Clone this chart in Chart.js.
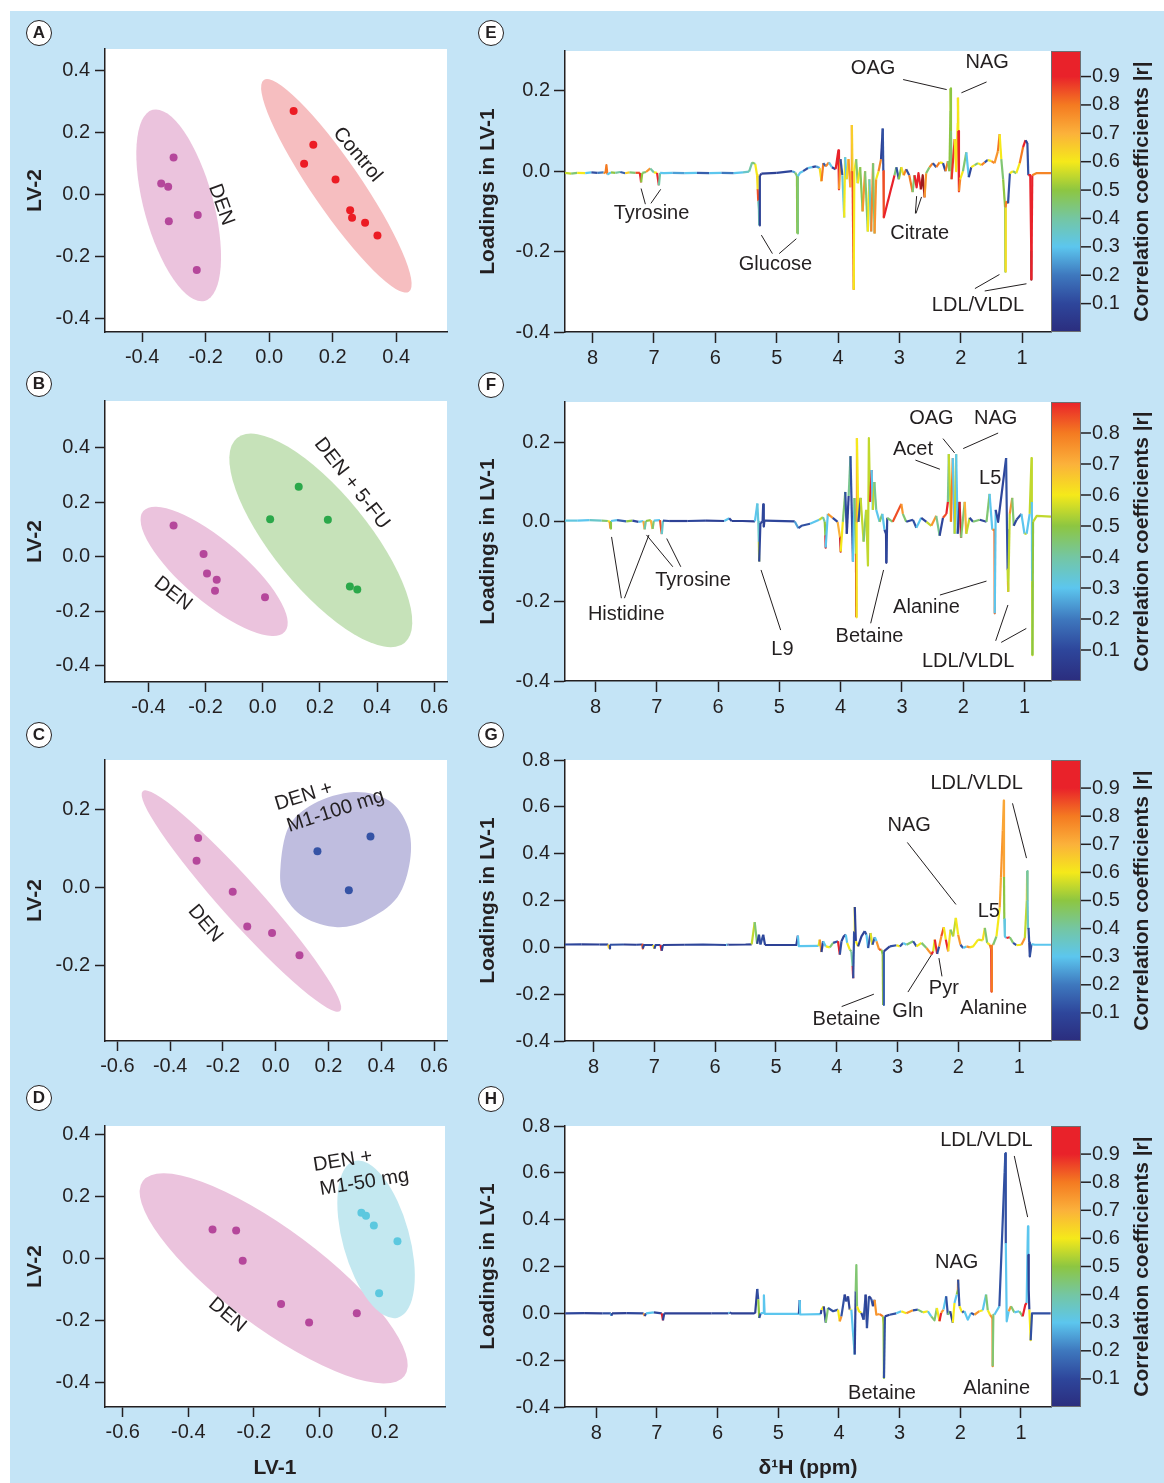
<!DOCTYPE html>
<html>
<head>
<meta charset="utf-8">
<title>PLS-DA scores and loadings</title>
<script src="https://cdn.jsdelivr.net/npm/chart.js@4.4.1/dist/chart.umd.min.js"></script>
<style>
body{margin:0;width:1164px;height:1483px;position:relative;overflow:hidden;background:#fff}
#bg{position:absolute;left:10px;top:11px;width:1154px;height:1472px;background:#c4e4f6}
canvas{position:absolute}
.tag{position:absolute;box-sizing:border-box;width:26px;height:26px;border:1.6px solid #231f20;border-radius:50%;background:#fff;color:#231f20;font:bold 17px "Liberation Sans",Arial,sans-serif;text-align:center;line-height:23px}
</style>
</head>
<body>
<div id="bg"></div>
<script>
// ---- scores (LV-1, LV-2) ----
const denAx=[-0.301,-0.34,-0.318,-0.316,-0.225,-0.228]
const denAy=[0.119,0.035,0.025,-0.086,-0.066,-0.243]
const ctlAx=[0.077,0.139,0.11,0.209,0.255,0.261,0.302,0.341]
const ctlAy=[0.268,0.16,0.099,0.048,-0.051,-0.075,-0.091,-0.132]

const denBx=[-0.312,-0.207,-0.195,-0.161,-0.167,0.008]
const denBy=[0.115,0.011,-0.061,-0.084,-0.124,-0.148]
const fuBx=[0.126,0.026,0.228,0.305,0.331]
const fuBy=[0.257,0.138,0.136,-0.109,-0.12]

const denCx=[-0.294,-0.3,-0.163,-0.108,-0.014,0.09]
const denCy=[0.126,0.0675,-0.012,-0.101,-0.118,-0.175]
const m100x=[0.158,0.359,0.277]
const m100y=[0.092,0.13,-0.0085]

const denDx=[-0.326,-0.254,-0.234,-0.117,-0.0315,0.114]
const denDy=[0.094,0.091,-0.0065,-0.147,-0.207,-0.177]
const m50x=[0.128,0.142,0.166,0.238,0.182]
const m50y=[0.148,0.139,0.107,0.056,-0.112]

// group regions: centre x, centre y, major-axis tip x, tip y, minor/major ratio
const ellDenA=[-0.285,-0.035,-0.367,0.272,0.35]
const ellCtlA=[0.2116,0.0278,-0.0168,0.368,0.19]
const ellDenB=[-0.17,-0.053,-0.418,0.168,0.33]
const ellFuB=[0.2033,0.0606,-0.0897,0.4367,0.36]
const ellDenC=[-0.13,-0.036,-0.504,0.246,0.135]
const blobM100x=[0.018,0.049,0.144,0.296,0.429,0.501,0.509,0.461,0.347,0.233,0.106,0.03]
const blobM100y=[0.051,0.154,0.214,0.244,0.222,0.154,0.068,-0.026,-0.084,-0.103,-0.077,-0.017]
const ellDenD=[-0.1397,-0.0642,-0.5386,0.2513,0.3]
const ellM50D=[0.1728,0.0626,0.1067,0.3161,0.41]

// ---- loadings: [ppm, loading in LV-1, |r|] ----
const specE=[
 [8.45,-0.004,0.5],[8.35,-0.006,0.55],[8.25,-0.004,0.45],[8.12,-0.005,0.6],[8.02,-0.003,0.3],[7.92,-0.004,0.12],[7.82,-0.003,0.2],
 [7.79,-0.005,0.75],[7.775,0.015,0.8],[7.76,-0.008,0.8],[7.7,-0.003,0.3],[7.63,-0.004,0.5],[7.55,-0.002,0.4],[7.47,-0.005,0.15],[7.4,-0.003,0.65],[7.3,-0.004,0.45],
 [7.23,-0.004,0.85],[7.21,-0.028,0.95],[7.19,-0.004,0.5],[7.13,-0.002,0.45],[7.06,0.007,0.75],[7.0,-0.003,0.4],[6.95,-0.004,0.6],[6.92,-0.035,0.95],[6.9,-0.004,0.4],
 [6.84,-0.005,0.3],[6.7,-0.004,0.3],[6.5,-0.005,0.25],[6.3,-0.004,0.3],[6.1,-0.005,0.15],[5.9,-0.004,0.3],[5.7,-0.005,0.2],[5.55,-0.003,0.3],[5.45,-0.001,0.35],
 [5.4,0.022,0.4],[5.35,0.018,0.45],[5.32,-0.01,0.6],[5.31,-0.045,0.62],[5.3,-0.075,0.85],[5.29,-0.095,0.38],[5.285,-0.135,0.38],[5.275,-0.012,0.08],[5.25,-0.006,0.05],
 [5.0,-0.004,0.08],[4.75,0.0,0.1],[4.7,-0.003,0.25],[4.67,-0.012,0.45],[4.665,-0.155,0.5],[4.655,-0.012,0.45],[4.62,-0.004,0.3],
 [4.57,0.0,0.3],[4.49,0.008,0.12],[4.42,0.01,0.3],[4.36,0.012,0.1],[4.3,0.008,0.25],[4.27,-0.025,0.62],[4.24,0.02,0.8],[4.2,0.012,0.15],[4.15,0.022,0.78],[4.1,0.01,0.3],[4.04,0.005,0.1],
 [3.995,0.052,0.9],[3.985,-0.045,0.9],[3.96,0.03,0.75],[3.93,-0.01,0.12],[3.9,-0.115,0.32],[3.885,0.035,0.6],[3.86,-0.02,0.3],[3.83,0.03,0.62],[3.8,-0.04,0.75],
 [3.785,0.0,0.7],[3.775,0.115,0.8],[3.765,0.0,0.65],[3.745,-0.295,0.85],[3.735,0.0,0.6],
 [3.705,0.03,0.6],[3.68,-0.03,0.45],[3.64,0.01,0.6],[3.6,-0.1,0.48],[3.56,0.0,0.75],[3.515,-0.15,0.45],[3.49,-0.02,0.6],[3.46,-0.15,0.35],[3.43,0.02,0.78],[3.405,-0.155,0.45],[3.38,-0.02,0.75],[3.34,0.0,0.6],[3.3,0.03,0.78],
 [3.272,0.106,0.08],[3.262,0.0,0.12],[3.255,-0.115,0.85],[3.08,-0.01,0.9],
 [3.05,0.01,0.45],[3.01,-0.02,0.12],[2.97,0.01,0.5],[2.93,-0.01,0.62],[2.89,0.005,0.78],[2.84,-0.01,0.12],[2.785,-0.052,0.8],[2.755,-0.01,0.45],[2.72,-0.04,0.92],[2.69,-0.005,0.9],[2.65,-0.045,0.92],[2.62,-0.01,1.0],[2.59,-0.065,1.0],[2.565,-0.005,0.75],
 [2.51,0.01,0.45],[2.455,0.02,0.78],[2.4,0.01,0.12],[2.345,0.022,0.8],[2.29,0.02,0.6],[2.25,0.0,0.1],[2.21,0.025,0.8],[2.185,0.0,0.45],
 [2.168,0.15,0.5],[2.166,0.206,0.55],[2.16,0.1,0.5],[2.15,-0.02,0.45],[2.1,0.08,0.88],[2.075,0.0,0.6],[2.05,0.12,0.6],[2.046,0.183,0.75],[2.04,0.1,0.6],[2.03,-0.05,0.92],[2.01,-0.02,0.78],[1.965,0.0,0.6],
 [1.91,0.047,0.45],[1.87,-0.015,0.3],[1.83,0.01,0.1],[1.775,0.015,0.6],[1.72,0.02,0.45],[1.665,0.015,0.6],[1.61,0.022,0.78],[1.56,0.028,0.12],[1.5,0.025,0.6],[1.45,0.02,0.78],[1.395,0.05,0.75],[1.367,0.092,0.8],[1.34,0.03,0.6],[1.31,-0.02,0.45],
 [1.278,-0.09,0.5],[1.274,-0.25,0.45],[1.268,-0.09,0.62],[1.26,-0.075,0.78],[1.23,-0.08,0.8],[1.2,-0.005,0.12],[1.15,0.0,0.6],[1.095,-0.005,0.45],[1.04,0.02,0.6],[0.985,0.06,0.8],[0.945,0.077,0.9],[0.915,0.07,0.08],[0.9,-0.01,0.12],
 [0.868,-0.01,0.9],[0.852,-0.2,0.92],[0.85,-0.27,1.0],[0.835,-0.01,0.9],[0.77,-0.005,0.78],[0.53,-0.005,0.78]
]
const specF=[
 [8.5,0.003,0.3],[8.3,0.003,0.32],[8.1,0.004,0.3],[7.9,0.003,0.35],[7.8,0.002,0.45],[7.77,0.0,0.6],[7.76,-0.017,0.75],[7.75,0.002,0.5],[7.65,0.004,0.3],[7.5,0.001,0.15],[7.4,0.003,0.5],[7.3,0.0,0.1],
 [7.22,0.002,0.3],[7.2,-0.019,0.72],[7.18,0.002,0.4],[7.1,0.004,0.5],[7.07,-0.018,0.7],[7.05,0.003,0.45],[6.95,0.004,0.3],[6.92,-0.031,0.85],[6.9,0.003,0.35],[6.8,0.002,0.12],
 [6.5,0.002,0.08],[6.2,0.003,0.1],[5.9,0.002,0.08],[5.82,0.009,0.3],[5.78,0.002,0.1],[5.6,0.002,0.08],[5.4,0.001,0.08],
 [5.36,0.046,0.3],[5.345,0.0,0.32],[5.336,-0.05,0.35],[5.33,-0.1,0.55],[5.31,-0.003,0.1],[5.275,0.0,0.08],[5.265,0.044,0.1],[5.255,-0.012,0.1],[5.245,0.003,0.08],
 [4.75,0.001,0.1],[4.69,-0.016,0.25],[4.64,-0.01,0.12],[4.5,-0.005,0.12],[4.35,0.005,0.3],[4.29,0.012,0.55],[4.26,0.0,0.4],[4.25,-0.035,0.5],[4.245,-0.065,0.97],[4.21,0.02,0.3],[4.13,0.01,0.75],[4.05,0.0,0.1],
 [4.01,-0.04,0.7],[4.0,-0.075,0.97],[3.965,0.0,0.6],[3.925,0.075,0.45],[3.9,-0.03,0.12],[3.87,0.065,0.08],[3.84,0.165,0.42],[3.8,-0.1,0.12],[3.775,0.06,0.3],[3.757,-0.02,0.45],[3.75,-0.08,0.45],[3.746,-0.24,0.97],
 [3.74,0.0,0.6],[3.735,0.21,0.72],[3.71,0.0,0.6],[3.675,0.06,0.12],[3.626,-0.05,0.55],[3.585,0.03,0.45],[3.555,-0.11,0.55],[3.54,0.21,0.55],[3.52,0.05,0.55],[3.495,0.13,0.95],[3.475,0.03,0.3],[3.45,0.1,0.55],[3.42,0.03,0.42],
 [3.365,0.0,0.3],[3.32,0.02,0.45],[3.285,-0.02,0.3],[3.26,-0.03,0.1],[3.255,-0.103,0.05],[3.24,0.01,0.1],[3.15,0.0,0.45],[3.01,0.045,0.85],[2.985,0.02,0.75],[2.93,0.0,0.45],[2.82,0.005,0.1],[2.765,-0.015,0.12],[2.685,0.01,0.3],
 [2.6,0.0,0.1],[2.52,-0.01,0.55],[2.44,0.015,0.75],[2.385,-0.035,0.42],[2.33,0.01,0.1],[2.275,0.02,0.85],[2.25,0.05,0.9],[2.235,0.17,0.42],[2.2,0.0,0.55],[2.17,0.16,0.8],[2.14,-0.03,0.3],[2.115,0.17,0.55],[2.09,-0.03,0.3],
 [2.06,0.05,0.08],[2.035,-0.04,0.97],[1.975,0.05,0.45],[1.95,-0.03,0.7],[1.895,0.01,0.55],[1.84,0.0,0.1],[1.73,0.005,0.45],[1.62,0.0,0.1],[1.57,0.07,0.45],[1.525,-0.02,0.3],[1.49,-0.02,0.75],[1.485,-0.23,0.82],[1.47,0.03,0.3],
 [1.43,0.0,0.1],[1.3,0.16,0.1],[1.285,-0.02,0.12],[1.275,-0.12,0.12],[1.27,-0.15,0.55],[1.265,-0.176,0.75],[1.24,0.02,0.55],[1.2,0.06,0.75],[1.175,-0.01,0.45],[1.13,0.005,0.1],[1.05,0.02,0.12],[1.0,-0.03,0.3],[0.965,-0.03,0.55],
 [0.915,0.02,0.3],[0.885,0.16,0.55],[0.88,0.05,0.55],[0.875,-0.15,0.3],[0.87,-0.335,0.55],[0.86,0.0,0.5],[0.8,0.015,0.55],[0.567,0.013,0.55]
]
const specG=[
 [8.47,0.012,0.08],[8.2,0.013,0.1],[7.9,0.012,0.08],[7.76,0.012,0.1],[7.745,-0.005,0.65],[7.73,0.011,0.1],[7.5,0.012,0.12],[7.3,0.011,0.08],[7.2,0.012,0.1],[7.19,-0.005,0.85],[7.17,0.01,0.1],
 [7.02,0.01,0.1],[7.0,-0.006,0.62],[6.98,0.01,0.1],[6.9,0.01,0.1],[6.88,-0.015,0.9],[6.86,0.01,0.1],[6.5,0.011,0.08],[6.2,0.012,0.1],[5.82,0.01,0.1],[5.8,0.012,0.3],[5.78,0.011,0.1],[5.5,0.012,0.08],[5.4,0.013,0.08],
 [5.35,0.108,0.55],[5.31,0.015,0.45],[5.28,0.054,0.08],[5.255,0.012,0.1],[5.21,0.054,0.12],[5.18,0.01,0.1],[4.665,0.01,0.08],[4.64,0.05,0.08],[4.625,0.005,0.3],[4.3,0.006,0.3],
 [4.28,0.033,0.58],[4.252,-0.02,0.75],[4.225,0.026,0.08],[4.18,0.004,0.3],[4.115,0.0,0.6],[4.06,0.019,0.45],[3.98,0.026,0.12],[3.95,-0.031,0.9],[3.923,0.026,0.12],[3.885,0.047,0.08],[3.852,0.054,0.08],[3.83,0.019,0.3],
 [3.786,-0.01,0.6],[3.76,-0.017,0.45],[3.74,-0.08,0.4],[3.73,-0.132,0.92],[3.715,0.069,0.12],[3.704,0.172,0.6],[3.687,0.026,0.08],[3.65,0.004,0.6],[3.594,0.047,0.08],[3.54,0.069,0.08],[3.512,0.054,0.12],[3.485,-0.003,0.3],
 [3.446,0.061,0.12],[3.413,0.011,0.58],[3.375,0.043,0.12],[3.347,0.026,0.3],[3.304,-0.01,0.75],[3.265,-0.01,0.85],[3.245,-0.03,0.5],[3.238,-0.246,0.52],[3.226,-0.017,0.15],[3.128,0.004,0.08],[3.018,0.009,0.12],
 [2.963,0.004,0.6],[2.909,0.019,0.12],[2.854,0.011,0.3],[2.744,0.026,0.45],[2.69,0.004,0.12],[2.607,0.019,0.6],[2.525,-0.003,0.45],[2.443,-0.03,0.75],[2.415,-0.017,0.9],[2.388,0.033,0.58],[2.35,-0.028,0.92],[2.317,0.004,0.12],
 [2.28,0.047,0.75],[2.24,0.086,0.85],[2.207,0.033,0.6],[2.168,-0.017,0.9],[2.13,0.076,0.62],[2.086,0.047,0.45],[2.042,0.126,0.55],[2.004,0.054,0.6],[1.966,0.011,0.75],[1.922,-0.003,0.12],[1.867,0.004,0.3],[1.812,0.0,0.75],
 [1.757,0.004,0.6],[1.675,0.033,0.6],[1.6,0.03,0.58],[1.565,0.083,0.62],[1.527,0.019,0.45],[1.483,0.011,0.6],[1.46,-0.01,0.8],[1.456,-0.189,0.92],[1.45,0.01,0.8],[1.428,0.011,0.75],[1.374,0.047,0.45],
 [1.32,0.169,0.6],[1.3,0.3,0.72],[1.27,0.5,0.75],[1.253,0.627,0.72],[1.25,0.3,0.72],[1.245,0.12,0.5],[1.236,0.047,0.32],[1.209,0.04,0.3],[1.154,0.043,0.9],[1.1,0.019,0.45],[1.046,0.009,0.12],[0.963,0.011,0.6],[0.907,0.04,0.75],
 [0.875,0.2,0.55],[0.869,0.326,0.62],[0.862,0.2,0.4],[0.855,0.08,0.35],[0.847,0.083,0.3],[0.835,0.02,0.12],[0.825,-0.039,0.08],[0.798,0.014,0.12],[0.743,0.011,0.3],[0.477,0.011,0.3]
]
const specH=[
 [8.51,0.0,0.08],[8.2,0.001,0.1],[7.9,0.0,0.08],[7.76,0.0,0.12],[7.75,-0.01,0.3],[7.74,0.0,0.1],[7.5,0.001,0.08],[7.22,0.0,0.1],[7.2,-0.012,0.75],[7.18,0.0,0.1],[7.05,0.004,0.3],[6.92,0.0,0.1],[6.9,-0.03,0.92],[6.88,0.0,0.1],
 [6.5,0.0,0.08],[6.1,0.0,0.08],[5.82,0.0,0.1],[5.8,0.004,0.3],[5.78,0.0,0.1],[5.4,0.0,0.08],
 [5.38,0.003,0.08],[5.347,0.104,0.08],[5.33,0.06,0.12],[5.314,-0.02,0.5],[5.29,0.0,0.12],[5.245,0.002,0.3],[5.237,0.077,0.3],[5.225,-0.002,0.3],[4.66,-0.002,0.3],[4.647,0.057,0.08],[4.64,-0.005,0.3],[4.3,-0.003,0.3],
 [4.289,0.015,0.08],[4.25,0.03,0.6],[4.217,-0.04,0.08],[4.18,0.023,0.45],[4.097,0.009,0.12],[4.015,0.016,0.12],[3.987,-0.034,0.6],[3.96,-0.013,0.75],[3.905,0.08,0.12],[3.878,0.051,0.08],[3.85,0.072,0.12],[3.823,0.016,0.08],
 [3.795,0.016,0.6],[3.768,-0.084,0.3],[3.74,-0.176,0.32],[3.724,0.094,0.08],[3.713,0.206,0.45],[3.702,0.03,0.45],[3.67,0.009,0.6],[3.631,0.002,0.6],[3.593,-0.027,0.08],[3.56,0.08,0.12],[3.538,-0.063,0.08],[3.505,0.073,0.12],
 [3.466,0.061,0.08],[3.439,0.03,0.12],[3.412,0.058,0.08],[3.384,-0.006,0.75],[3.33,-0.003,0.75],[3.274,-0.013,0.8],[3.265,-0.05,0.52],[3.258,-0.276,0.5],[3.242,-0.013,0.12],[3.165,-0.006,0.08],[3.055,0.0,0.12],
 [2.973,0.009,0.3],[2.89,0.0,0.6],[2.781,0.013,0.75],[2.7,0.016,0.12],[2.617,0.004,0.45],[2.534,0.009,0.6],[2.479,-0.013,0.3],[2.425,-0.03,0.45],[2.386,0.023,0.45],[2.343,-0.034,0.6],[2.315,0.002,0.9],[2.277,0.016,0.75],
 [2.233,0.073,0.3],[2.205,-0.006,0.12],[2.167,0.009,0.45],[2.123,-0.04,0.08],[2.096,0.044,0.6],[2.058,0.08,0.3],[2.04,0.1,0.5],[2.036,0.144,0.75],[2.014,0.03,0.12],[1.97,0.004,0.6],[1.932,0.009,0.12],[1.877,-0.027,0.3],
 [1.822,0.002,0.3],[1.767,-0.006,0.12],[1.685,0.009,0.75],[1.63,0.013,0.6],[1.575,0.08,0.3],[1.547,0.013,0.45],[1.51,-0.006,0.6],[1.47,-0.02,0.75],[1.466,-0.226,0.78],[1.455,-0.006,0.45],[1.438,-0.006,0.45],[1.356,0.03,0.3],
 [1.3,0.4,0.12],[1.27,0.6,0.12],[1.257,0.684,0.15],[1.25,0.3,0.12],[1.235,-0.034,0.3],[1.202,0.009,0.3],[1.164,0.03,0.75],[1.109,0.004,0.45],[1.027,0.009,0.3],[0.972,-0.013,0.45],[0.928,0.037,0.9],[0.906,0.044,0.9],
 [0.89,0.3,0.3],[0.884,0.371,0.3],[0.878,0.25,0.3],[0.872,0.1,0.08],[0.862,0.016,0.08],[0.85,-0.05,0.6],[0.84,-0.115,0.6],[0.818,0.0,0.12],[0.51,0.0,0.12]
]

const FONT='"Liberation Sans", Arial, Helvetica, sans-serif'
const TXT='#231f20'
Chart.defaults.font.family=FONT
Chart.defaults.color=TXT

// |r| colour scale (jet-like)
const mapStops=[[0,[43,45,126]],[0.1,[46,70,155]],[0.2,[62,120,190]],[0.3,[92,198,238]],[0.4,[116,198,163]],[0.5,[141,198,65]],[0.6,[245,233,26]],[0.7,[251,177,59]],[0.8,[244,122,33]],[0.9,[233,34,42]],[0.955,[233,34,42]],[1,[156,27,31]]]
function corrColour(r){
  r=Math.max(0,Math.min(1,r))
  for(let i=1;i<mapStops.length;i++){
    if(r<=mapStops[i][0]){
      const [a,ca]=mapStops[i-1],[b,cb]=mapStops[i],f=(r-a)/(b-a)
      return 'rgb('+ca.map((c,k)=>Math.round(c+(cb[k]-c)*f)).join(',')+')'
    }
  }
}

const oneDec=v=>Math.abs(v)<1e-9?'0.0':v.toFixed(1)
const bord={display:true,color:TXT,width:1.5}
const gridLook=len=>({display:true,drawOnChartArea:false,drawTicks:true,tickLength:len,tickWidth:1.5,tickColor:TXT,color:TXT})

function addCanvas(l,t,w,h){
  const c=document.createElement('canvas')
  c.width=w;c.height=h;c.style.left=l+'px';c.style.top=t+'px'
  document.body.appendChild(c)
  return c
}

const whitePlot={id:'whitePlot',beforeDraw(c){
  const a=c.chartArea
  c.ctx.save();c.ctx.fillStyle='#fff';c.ctx.fillRect(a.left,a.top,a.right-a.left,a.bottom-a.top);c.ctx.restore()
}}

function regionPlugin(regions){return{id:'regions',beforeDatasetsDraw(c){
  const {ctx,chartArea:a,scales:{x,y}}=c
  ctx.save();ctx.beginPath();ctx.rect(a.left,a.top,a.right-a.left,a.bottom-a.top);ctx.clip()
  regions.forEach(g=>{
    ctx.fillStyle=g.color;ctx.beginPath()
    if(g.ell){
      const [cx,cy,tx,ty,k]=g.ell
      const px=x.getPixelForValue(cx),py=y.getPixelForValue(cy),qx=x.getPixelForValue(tx),qy=y.getPixelForValue(ty)
      const r=Math.hypot(qx-px,qy-py)
      ctx.ellipse(px,py,r,r*k,Math.atan2(qy-py,qx-px),0,Math.PI*2)
    }else{
      const P=g.xs.map((v,i)=>[x.getPixelForValue(v),y.getPixelForValue(g.ys[i])]),n=P.length
      ctx.moveTo(P[0][0],P[0][1])
      for(let i=0;i<n;i++){
        const p0=P[(i-1+n)%n],p1=P[i],p2=P[(i+1)%n],p3=P[(i+2)%n]
        ctx.bezierCurveTo(p1[0]+(p2[0]-p0[0])/6,p1[1]+(p2[1]-p0[1])/6,p2[0]-(p3[0]-p1[0])/6,p2[1]-(p3[1]-p1[1])/6,p2[0],p2[1])
      }
    }
    ctx.fill()
  })
  ctx.restore()
}}}

function tagPlugin(tags){return{id:'tags',afterDatasetsDraw(c){
  const {ctx,scales:{x,y}}=c
  ctx.save();ctx.font='20px '+FONT;ctx.fillStyle=TXT;ctx.textAlign='center';ctx.textBaseline='middle'
  tags.forEach(t=>{
    ctx.save();ctx.translate(x.getPixelForValue(t.x),y.getPixelForValue(t.y));ctx.rotate(t.rot*Math.PI/180)
    ctx.fillText(t.text,0,0);ctx.restore()
  })
  ctx.restore()
}}}

function notePlugin(notes){return{id:'notes',afterDatasetsDraw(c){
  const {ctx,scales:{x,y}}=c
  ctx.save();ctx.strokeStyle=TXT;ctx.lineWidth=1;ctx.font='20px '+FONT;ctx.fillStyle=TXT;ctx.textAlign='center';ctx.textBaseline='middle'
  notes.forEach(n=>{
    n.lines.forEach(l=>{
      ctx.beginPath();ctx.moveTo(x.getPixelForValue(l[0]),y.getPixelForValue(l[1]));ctx.lineTo(x.getPixelForValue(l[2]),y.getPixelForValue(l[3]));ctx.stroke()
    })
    ctx.fillText(n.text,x.getPixelForValue(n.x),y.getPixelForValue(n.y))
  })
  ctx.restore()
}}}

const colourBar={id:'colourBar',afterDraw(c){
  const {ctx,chartArea:a}=c,s=c.scales.cb,x0=a.right,w=30
  const g=ctx.createLinearGradient(0,a.bottom,0,a.top)
  mapStops.forEach(([v])=>{if(v<=s.max)g.addColorStop(v/s.max,corrColour(Math.min(v,0.93)))})
  g.addColorStop(1,corrColour(Math.min(s.max,0.93)))
  ctx.save()
  ctx.fillStyle=g;ctx.fillRect(x0,a.top,w,a.bottom-a.top)
  ctx.strokeStyle='#6d6e71';ctx.lineWidth=1;ctx.strokeRect(x0+0.5,a.top+0.5,w-1,a.bottom-a.top-1)
  ctx.strokeStyle=TXT;ctx.lineWidth=1.5
  s.ticks.forEach(t=>{
    if(t.label==null||t.label==='')return
    const yy=s.getPixelForValue(t.value)
    ctx.beginPath();ctx.moveTo(x0+w,yy);ctx.lineTo(x0+w+10,yy);ctx.stroke()
  })
  ctx.translate(x0+91,(a.top+a.bottom)/2);ctx.rotate(-Math.PI/2)
  ctx.font='bold 21px '+FONT;ctx.fillStyle=TXT;ctx.textAlign='center';ctx.textBaseline='middle'
  ctx.fillText('Correlation coefficients |r|',0,0)
  ctx.restore()
}}

function scorePanel(box,xr,yr,groups,regions,tags,xTitle){
  const xh=xTitle?74:40,W=465
  const cv=addCanvas(0,box.t-40,W,box.b-box.t+45+xh)
  new Chart(cv,{
    type:'scatter',
    data:{datasets:groups.map(g=>({data:g.xs.map((v,i)=>({x:v,y:g.ys[i]})),backgroundColor:g.color,borderWidth:0,pointRadius:4,pointHoverRadius:4}))},
    options:{responsive:false,animation:false,events:[],
      layout:{padding:{left:0,top:40,right:W-box.r,bottom:5}},
      plugins:{legend:{display:false},tooltip:{enabled:false}},
      scales:{
        x:{type:'linear',min:xr[0],max:xr[1],afterFit:s=>{s.height=xh},border:bord,grid:gridLook(10),
          ticks:{stepSize:0.2,includeBounds:false,autoSkip:false,maxRotation:0,padding:3,color:TXT,font:{size:20},callback:oneDec},
          title:{display:!!xTitle,text:xTitle||'',color:TXT,font:{size:21,weight:'bold'},padding:0}},
        y:{type:'linear',min:yr[0],max:yr[1],afterFit:s=>{s.width=box.l},border:bord,grid:gridLook(10),
          ticks:{stepSize:0.2,includeBounds:false,autoSkip:false,padding:5,color:TXT,font:{size:20},callback:oneDec},
          title:{display:true,text:'LV-2',color:TXT,font:{size:21,weight:'bold'},padding:{top:23,bottom:0}}}
      }},
    plugins:[whitePlot,regionPlugin(regions),tagPlugin(tags)]
  })
}

function loadPanel(box,xr,yr,cbMax,spec,notes,xTitle){
  const xh=xTitle?74:40,L=470,W=694
  const cv=addCanvas(L,box.t-40,W,box.b-box.t+45+xh)
  new Chart(cv,{
    type:'line',
    data:{datasets:[{data:spec.map(p=>({x:p[0],y:p[1]})),borderWidth:2.2,pointRadius:0,tension:0,borderColor:TXT,borderJoinStyle:'round',
      segment:{borderColor:s=>corrColour(spec[s.p1DataIndex][2])}}]},
    options:{responsive:false,animation:false,events:[],
      layout:{padding:{left:0,top:40,right:0,bottom:5}},
      plugins:{legend:{display:false},tooltip:{enabled:false}},
      scales:{
        x:{type:'linear',reverse:true,min:xr[0],max:xr[1],afterFit:s=>{s.height=xh},border:bord,grid:gridLook(11),
          ticks:{stepSize:1,includeBounds:false,autoSkip:false,maxRotation:0,padding:3,color:TXT,font:{size:20},callback:v=>String(Math.round(v))},
          title:{display:!!xTitle,text:xTitle||'',color:TXT,font:{size:21,weight:'bold'},padding:0}},
        y:{type:'linear',min:yr[0],max:yr[1],afterFit:s=>{s.width=box.l-L},border:bord,grid:gridLook(11),
          ticks:{stepSize:0.2,includeBounds:false,autoSkip:false,padding:4,color:TXT,font:{size:20},callback:oneDec},
          title:{display:true,text:'Loadings in LV-1',color:TXT,font:{size:21,weight:'bold'},padding:{top:6,bottom:0}}},
        cb:{type:'linear',position:'right',min:0,max:cbMax,
          afterFit:s=>{s.width=W-(box.r-L);s.paddingTop=0;s.paddingBottom=0},
          border:{display:false},grid:{display:false,drawTicks:false},
          ticks:{stepSize:0.1,includeBounds:false,autoSkip:false,padding:41,color:TXT,font:{size:20},
            callback:v=>(v<0.05||v>cbMax-0.05)?null:v.toFixed(1)}}
      }},
    plugins:[whitePlot,colourBar,notePlugin(notes)]
  })
}

// colours of the groups
const cDen='#b5479b',cDenFill='#ebc3dd'

scorePanel({l:105,t:49,r:447,b:332},[-0.517,0.56],[-0.442,0.4675],
  [{xs:denAx,ys:denAy,color:cDen},{xs:ctlAx,ys:ctlAy,color:'#ec1c24'}],
  [{ell:ellDenA,color:cDenFill},{ell:ellCtlA,color:'#f6bec0'}],
  [{text:'DEN',x:-0.151,y:-0.033,rot:70},{text:'Control',x:0.278,y:0.128,rot:50}])

scorePanel({l:105,t:401,r:447,b:682},[-0.552,0.645],[-0.459,0.572],
  [{xs:denBx,ys:denBy,color:cDen},{xs:fuBx,ys:fuBy,color:'#2ba84a'}],
  [{ell:ellDenB,color:cDenFill},{ell:ellFuB,color:'#c6e2b9'}],
  [{text:'DEN',x:-0.314,y:-0.135,rot:38},{text:'DEN + 5-FU',x:0.312,y:0.269,rot:52}])

scorePanel({l:105,t:760,r:447,b:1041},[-0.647,0.649],[-0.395,0.326],
  [{xs:denCx,ys:denCy,color:cDen},{xs:m100x,ys:m100y,color:'#3553a5'}],
  [{ell:ellDenC,color:cDenFill},{xs:blobM100x,ys:blobM100y,color:'#bfbddf'}],
  [{text:'DEN',x:-0.267,y:-0.094,rot:50},{text:'DEN +',x:0.106,y:0.233,rot:-17},{text:'M1-100 mg',x:0.227,y:0.195,rot:-18}])

scorePanel({l:105,t:1126,r:445,b:1407},[-0.654,0.383],[-0.48,0.429],
  [{xs:denDx,ys:denDy,color:cDen},{xs:m50x,ys:m50y,color:'#5cc8df'}],
  [{ell:ellDenD,color:cDenFill},{ell:ellM50D,color:'#c3e8f0'}],
  [{text:'DEN',x:-0.281,y:-0.183,rot:40},{text:'DEN +',x:0.071,y:0.316,rot:-9},{text:'M1-50 mg',x:0.137,y:0.246,rot:-9}],'LV-1')

loadPanel({l:565,t:51,r:1051,b:332},[0.53,8.45],[-0.4,0.299],0.99,specE,[
  {text:'Tyrosine',x:7.04,y:-0.105,lines:[[7.21,-0.043,7.14,-0.082],[6.89,-0.045,7.05,-0.08]]},
  {text:'Glucose',x:5.02,y:-0.232,lines:[[5.25,-0.159,5.07,-0.205],[4.68,-0.168,4.96,-0.205]]},
  {text:'Citrate',x:2.67,y:-0.154,lines:[[2.72,-0.062,2.74,-0.105],[2.64,-0.064,2.73,-0.105]]},
  {text:'OAG',x:3.43,y:0.256,lines:[[2.94,0.228,2.23,0.203]]},
  {text:'NAG',x:1.57,y:0.27,lines:[[1.58,0.222,1.99,0.195]]},
  {text:'LDL/VLDL',x:1.72,y:-0.334,lines:[[1.77,-0.292,1.37,-0.257],[1.61,-0.298,0.93,-0.28]]}])

loadPanel({l:565,t:402,r:1051,b:681},[0.567,8.5],[-0.4,0.301],0.9,specF,[
  {text:'Histidine',x:7.5,y:-0.234,lines:[[7.74,-0.038,7.58,-0.192],[7.13,-0.033,7.53,-0.192]]},
  {text:'Tyrosine',x:6.41,y:-0.148,lines:[[7.17,-0.033,6.74,-0.113],[6.84,-0.042,6.61,-0.113]]},
  {text:'L9',x:4.95,y:-0.32,lines:[[5.3,-0.121,4.98,-0.272]]},
  {text:'Betaine',x:3.53,y:-0.287,lines:[[3.3,-0.121,3.51,-0.255]]},
  {text:'Alanine',x:2.6,y:-0.215,lines:[[1.62,-0.149,2.38,-0.184]]},
  {text:'LDL/VLDL',x:1.92,y:-0.35,lines:[[1.27,-0.209,1.47,-0.299],[0.97,-0.268,1.38,-0.303]]},
  {text:'Acet',x:2.82,y:0.182,lines:[[2.78,0.155,2.38,0.132]]},
  {text:'OAG',x:2.52,y:0.26,lines:[[2.33,0.209,2.14,0.173]]},
  {text:'NAG',x:1.47,y:0.26,lines:[[1.43,0.223,2.0,0.184]]},
  {text:'L5',x:1.56,y:0.109,lines:[]}])

loadPanel({l:565,t:760,r:1051,b:1041},[0.477,8.47],[-0.4,0.8],1.0,specG,[
  {text:'LDL/VLDL',x:1.7,y:0.698,lines:[[1.11,0.615,0.88,0.381]]},
  {text:'NAG',x:2.81,y:0.519,lines:[[2.84,0.448,2.04,0.183]]},
  {text:'L5',x:1.5,y:0.152,lines:[]},
  {text:'Betaine',x:3.84,y:-0.31,lines:[[3.92,-0.253,3.39,-0.2]]},
  {text:'Gln',x:2.83,y:-0.275,lines:[[2.83,-0.191,2.44,-0.031]]},
  {text:'Pyr',x:2.24,y:-0.174,lines:[[2.32,-0.046,2.27,-0.124]]},
  {text:'Alanine',x:1.42,y:-0.263,lines:[]}])

loadPanel({l:565,t:1126,r:1051,b:1407},[0.505,8.515],[-0.4,0.8],1.0,specH,[
  {text:'LDL/VLDL',x:1.57,y:0.738,lines:[[1.11,0.672,0.89,0.411]]},
  {text:'NAG',x:2.06,y:0.218,lines:[]},
  {text:'Betaine',x:3.29,y:-0.342,lines:[]},
  {text:'Alanine',x:1.4,y:-0.322,lines:[]}],'δ¹H (ppm)')

// circled panel letters
;[['A',39,33],['B',39,384],['C',39,735],['D',39,1098],['E',491,33],['F',491,385],['G',491,735],['H',491,1099]].forEach(([t,x,y])=>{
  const d=document.createElement('div')
  d.className='tag';d.textContent=t;d.style.left=(x-13)+'px';d.style.top=(y-13)+'px'
  document.body.appendChild(d)
})
</script>
</body>
</html>
